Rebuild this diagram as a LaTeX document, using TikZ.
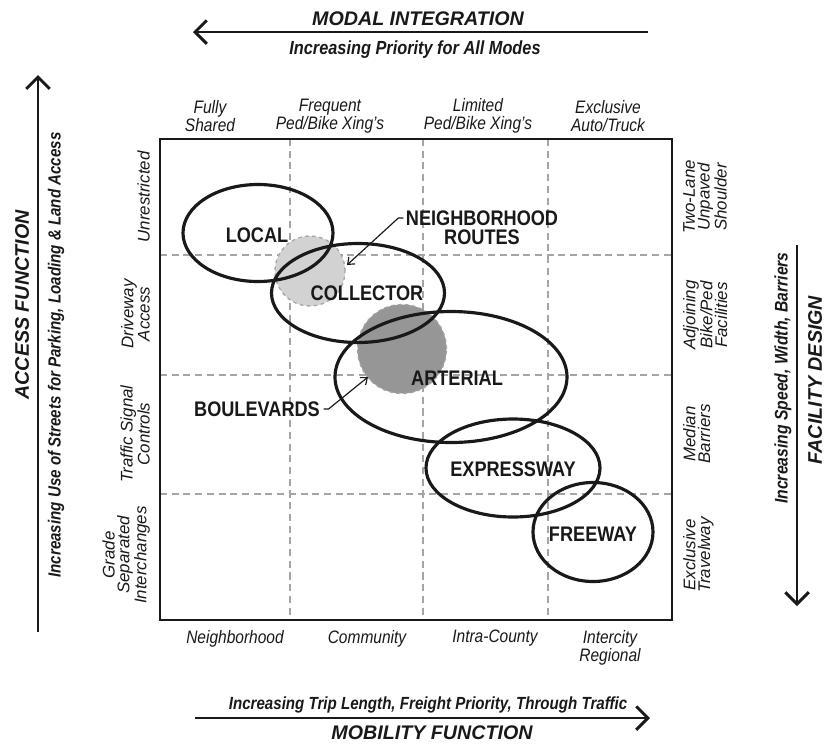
\documentclass[tikz,border=0pt]{standalone}
\usepackage{fontspec}
\setmainfont{Liberation Sans}[FakeStretch=0.86]
\newfontfamily\widefont{Liberation Sans}
\usetikzlibrary{shapes.geometric,arrows.meta}
\definecolor{gridgray}{RGB}{165,165,165}
\definecolor{lightshade}{RGB}{210,210,210}
\definecolor{darkshade}{RGB}{150,150,150}
\definecolor{inkgray}{RGB}{25,25,25}
\tikzset{%
    road/.style={draw=inkgray, ellipse, line width=2.7pt, inner sep=0pt},
    roadname/.style={text=inkgray, inner sep=0pt, align=center,
        font=\bfseries\fontsize{18}{16.6}\selectfont},
    shade/.style={draw=gridgray, dashed, circle, line width=1.1pt, inner sep=0pt},
    gridline/.style={draw=gridgray, line width=0.9pt, dash pattern=on 6pt off 4pt},
    frame/.style={draw=inkgray, line width=1.6pt},
    bigarrow/.style={draw=inkgray, line width=2.5pt, -{Straight Barb[length=10pt,width=20pt,line width=2.5pt]}},
    pointer/.style={draw=inkgray, line width=1pt, -{Straight Barb[length=5pt,width=8pt,line width=1pt]}},
    title/.style={text=inkgray, font=\widefont\bfseries\itshape\fontsize{16.8}{18}\selectfont},
    subtitle/.style={text=inkgray, font=\bfseries\itshape\fontsize{15}{16}\selectfont},
    scalelabel/.style={text=inkgray, align=center, inner sep=0pt,
        font=\itshape\fontsize{15.4}{15.4}\selectfont},
    sidelabel/.style={scalelabel, rotate=90, font=\widefont\itshape\fontsize{14.4}{12.6}\selectfont}
}

\begin{document}
\begin{tikzpicture}[x=0.03cm,y=-0.03cm]
\useasboundingbox (0,0) rectangle (833,744);
%-----------------------------------------------
    \draw[gridline] (290,139)--(290,620);
    \draw[gridline] (423,139)--(423,620);
    \draw[gridline] (548,139)--(548,620);
    \draw[gridline] (160,255)--(672,255);
    \draw[gridline] (160,375)--(672,375);
    \draw[gridline] (160,494)--(672,494);
    \draw[frame] (160,139) rectangle (672,620);
%-----------------------------------------------
    \node[shade, fill=lightshade, minimum size=70*0.03cm] (nbrzone) at (310,271) {};
    \node[shade, fill=darkshade, minimum size=89*0.03cm] (blvzone) at (402,349) {};
%-----------------------------------------------
    \node[road, minimum width=150*0.03cm, minimum height=97*0.03cm] (local) at (258,233) {};
    \node[road, minimum width=173*0.03cm, minimum height=99*0.03cm] (collector) at (358,293) {};
    \node[road, minimum width=232*0.03cm, minimum height=131*0.03cm] (arterial) at (451,377) {};
    \node[road, minimum width=174*0.03cm, minimum height=98*0.03cm] (expressway) at (513,468) {};
    \node[road, minimum width=120*0.03cm, minimum height=99*0.03cm] (freeway) at (593,532) {};
    \node[roadname] (local-t) at (257,235) {LOCAL};
    \node[roadname] (collector-t) at (367,293) {COLLECTOR};
    \node[roadname] (arterial-t) at (457,378) {ARTERIAL};
    \node[roadname] (expressway-t) at (513,469) {EXPRESSWAY};
    \node[roadname] (freeway-t) at (593,534) {FREEWAY};
%-----------------------------------------------
    \node[roadname] (nbr) at (482,228) {NEIGHBORHOOD\\ROUTES};
    \node[roadname] (blv) at (257,409) {BOULEVARDS};
    \coordinate (nbrtip) at (347,265);
    \coordinate (blvtip) at (368,377);
    \draw[pointer] ([xshift=-2pt,yshift=0.3cm]nbr.west) -- ++(-5,0) -- (nbrtip);
    \draw[pointer] ([xshift=3pt]blv.east) -- ++(5,0) -- (blvtip);
%-----------------------------------------------
    \coordinate (mi-r) at (648,32);   \coordinate (mi-l) at (193,32);
    \coordinate (mf-l) at (195,718);  \coordinate (mf-r) at (650,718);
    \coordinate (af-b) at (38,632);   \coordinate (af-t) at (38,75);
    \coordinate (fd-t) at (797,245);  \coordinate (fd-b) at (797,606);
    \draw[bigarrow] (mi-r)--(mi-l);
    \draw[bigarrow] (mf-l)--(mf-r);
    \draw[bigarrow] (af-b)--(af-t);
    \draw[bigarrow] (fd-t)--(fd-b);
%-----------------------------------------------
    \node[title] (modal) at (418,19) {MODAL INTEGRATION};
    \node[subtitle, font=\bfseries\itshape\fontsize{16.2}{17}\selectfont] (modalsub) at (415,50) {Increasing Priority for All Modes};
    \node[title] (mobility) at (432,733) {MOBILITY FUNCTION};
    \node[subtitle] (mobilitysub) at (428,705) {Increasing Trip Length, Freight Priority, Through Traffic};
    \node[title, rotate=90] (access) at (22,305) {ACCESS FUNCTION};
    \node[subtitle, rotate=90] (accesssub) at (56,355) {Increasing Use of Streets for Parking, Loading \& Land Access};
    \node[title, rotate=90] (facility) at (815,380) {FACILITY DESIGN};
    \node[subtitle, rotate=90, font=\bfseries\itshape\fontsize{15.6}{16}\selectfont] (facilitysub) at (783,378) {Increasing Speed, Width, Barriers};
%-----------------------------------------------
    \node[scalelabel] (shared) at (210,116) {Fully\\Shared};
    \node[scalelabel] (frequent) at (330,116) {Frequent\\Ped/Bike Xing's};
    \node[scalelabel] (limited) at (478,116) {Limited\\Ped/Bike Xing's};
    \node[scalelabel] (exclusive) at (608,116) {Exclusive\\Auto/Truck};
%-----------------------------------------------
    \node[scalelabel, anchor=north] (nbhd) at (235,630) {Neighborhood};
    \node[scalelabel, anchor=north] (community) at (367,630) {Community};
    \node[scalelabel, anchor=north] (county) at (495,630) {Intra-County};
    \node[scalelabel, anchor=north] (intercity) at (610,630) {Intercity\\Regional};
%-----------------------------------------------
    \node[sidelabel, anchor=south] (unrestricted) at (150,197) {Unrestricted};
    \node[sidelabel, anchor=south] (driveway) at (150,314) {Driveway\\Access};
    \node[sidelabel, anchor=south] (signal) at (150,434) {Traffic Signal\\Controls};
    \node[sidelabel, anchor=south] (grade) at (150,555) {Grade\\Separated\\Interchanges};
%-----------------------------------------------
    \node[sidelabel, anchor=north] (twolane) at (683,197) {Two-Lane\\Unpaved\\Shoulder};
    \node[sidelabel, anchor=north] (adjoining) at (683,315) {Adjoining\\Bike/Ped\\Facilities};
    \node[sidelabel, anchor=north] (median) at (683,434) {Median\\Barriers};
    \node[sidelabel, anchor=north] (travelway) at (683,555) {Exclusive\\Travelway};
\end{tikzpicture}
\end{document}
